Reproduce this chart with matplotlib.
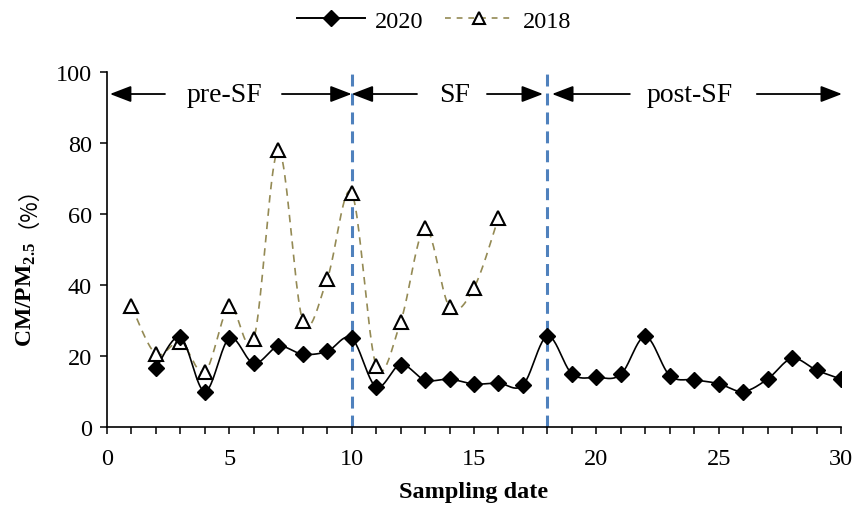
import numpy as np
import matplotlib
matplotlib.use("Agg")
import matplotlib.pyplot as plt
from matplotlib.ticker import MultipleLocator, FixedLocator

plt.rcParams['font.family'] = ['Liberation Serif', 'Noto Sans CJK SC']
plt.rcParams['mathtext.fontset'] = 'custom'
plt.rcParams['mathtext.rm'] = 'Liberation Serif'
plt.rcParams['mathtext.bf'] = 'Liberation Serif:bold'

# ---- data ----
x2020 = list(range(2, 31))
y2020 = [16.5, 25.3, 10.0, 25.0, 17.9, 22.7, 20.5, 21.3, 25.0, 11.3, 17.6, 13.2,
         13.5, 12.1, 12.4, 11.8, 25.6, 15.0, 14.0, 14.8, 25.5, 14.5, 13.3, 12.2,
         10.0, 13.5, 19.3, 16.0, 13.5]
x2018 = list(range(1, 17))
y2018 = [34.0, 20.5, 24.0, 15.5, 34.0, 24.8, 78.0, 30.0, 41.7, 66.0, 17.3, 29.6,
         56.0, 33.8, 39.2, 59.0]
boundaries = [10, 18]
periods = ["pre-SF", "SF", "post-SF"]
x_ticks = [0, 5, 10, 15, 20, 25, 30]
y_ticks = [0, 20, 40, 60, 80, 100]


def smooth(xs, ys, n=24):
    """Excel-style smoothed line (Bezier with 1/6 neighbour tangents)."""
    p = np.column_stack([xs, ys]).astype(float)
    out = []
    for i in range(len(p) - 1):
        p0 = p[i - 1] if i > 0 else p[i]
        p1 = p[i]
        p2 = p[i + 1]
        p3 = p[i + 2] if i + 2 < len(p) else p[i + 1]
        c1 = p1 + (p2 - p0) / 6.0
        c2 = p2 - (p3 - p1) / 6.0
        t = np.linspace(0, 1, n)[:, None]
        seg = ((1 - t) ** 3) * p1 + 3 * ((1 - t) ** 2) * t * c1 + 3 * (1 - t) * t ** 2 * c2 + t ** 3 * p2
        out.append(seg if i == 0 else seg[1:])
    out = np.vstack(out)
    return out[:, 0], out[:, 1]


fig = plt.figure(figsize=(8.54, 5.06), dpi=100)
ax = fig.add_axes([107 / 854, 78 / 506, (841 - 107) / 854, (428 - 73) / 506])

# boundaries
for b in boundaries:
    ax.axvline(b, color='#4F81BD', lw=2.2, dashes=(3.9, 2.3), zorder=1)

# 2018 series
sx, sy = smooth(x2018, y2018)
ax.plot(sx, sy, color='#948A54', lw=1.2, dashes=(4.5, 3.5), zorder=2)
ax.plot(x2018, y2018, ls='none', marker='^', ms=9.5, mfc='white', mec='black', mew=1.5, zorder=4)
# 2020 series
sx, sy = smooth(x2020, y2020)
ax.plot(sx, sy, color='black', lw=1.2, zorder=3)
ax.plot(x2020, y2020, ls='none', marker='D', ms=8, color='black', zorder=5)

# legend proxies
h20, = ax.plot([], [], color='black', lw=1.4, marker='D', ms=8)
h18, = ax.plot([], [], color='#948A54', lw=1.2, dashes=(3.5, 3.5), marker='^', ms=8.5,
               mfc='white', mec='black', mew=1.5)
fig.legend([h20, h18], ['2020', '2018'], loc='center', bbox_to_anchor=(0.508, 0.957),
           ncol=2, frameon=False, fontsize=17.5, handlelength=2.8, handletextpad=0.4,
           columnspacing=0.9)

# period arrows
ya = 93.8
segments = [
    (0.12, 2.37, 4.82, 7.15, 10.0),
    (10.0, 12.67, 14.22, 15.53, 17.82),
    (18.19, 21.37, 23.83, 26.56, 30.04),
]
aprops = dict(arrowstyle='-|>,head_length=0.65,head_width=0.25', mutation_scale=20,
              color='black', lw=1.3, shrinkA=0, shrinkB=0)
for name, (lt, ls_, xc, rs, rt) in zip(periods, segments):
    ax.annotate('', xy=(lt, ya), xytext=(ls_, ya), arrowprops=aprops, annotation_clip=False)
    ax.annotate('', xy=(rt, ya), xytext=(rs, ya), arrowprops=aprops, annotation_clip=False)
    ax.text(xc, ya, name, ha='center', va='center', fontsize=20)

ax.set_xlim(0, 30)
ax.set_ylim(0, 100)
ax.xaxis.set_major_locator(FixedLocator(x_ticks))
ax.xaxis.set_minor_locator(MultipleLocator(1))
ax.yaxis.set_major_locator(FixedLocator(y_ticks))
ax.spines['top'].set_visible(False)
ax.spines['right'].set_visible(False)
for s in ('left', 'bottom'):
    ax.spines[s].set_linewidth(1.2)
ax.tick_params(which='both', direction='out', length=5, width=1.1, labelsize=17.5)
ax.tick_params(axis='x', pad=10)
ax.tick_params(axis='y', pad=6)

ax.set_xlabel('Sampling date', fontsize=17.5, fontweight='bold', labelpad=9)

# y label
fig.text(26 / 854, 1 - 347 / 506, r'CM/PM$_{\mathbf{2.5}}$', rotation=90, ha='center', va='bottom',
         fontsize=17, fontweight='bold')
fig.text(16 / 854, 1 - 196 / 506, '（%）', rotation=90, ha='center', va='center',
         fontsize=16, family=['Noto Sans CJK SC', 'Liberation Serif'])

fig.savefig('out.png', dpi=100)
